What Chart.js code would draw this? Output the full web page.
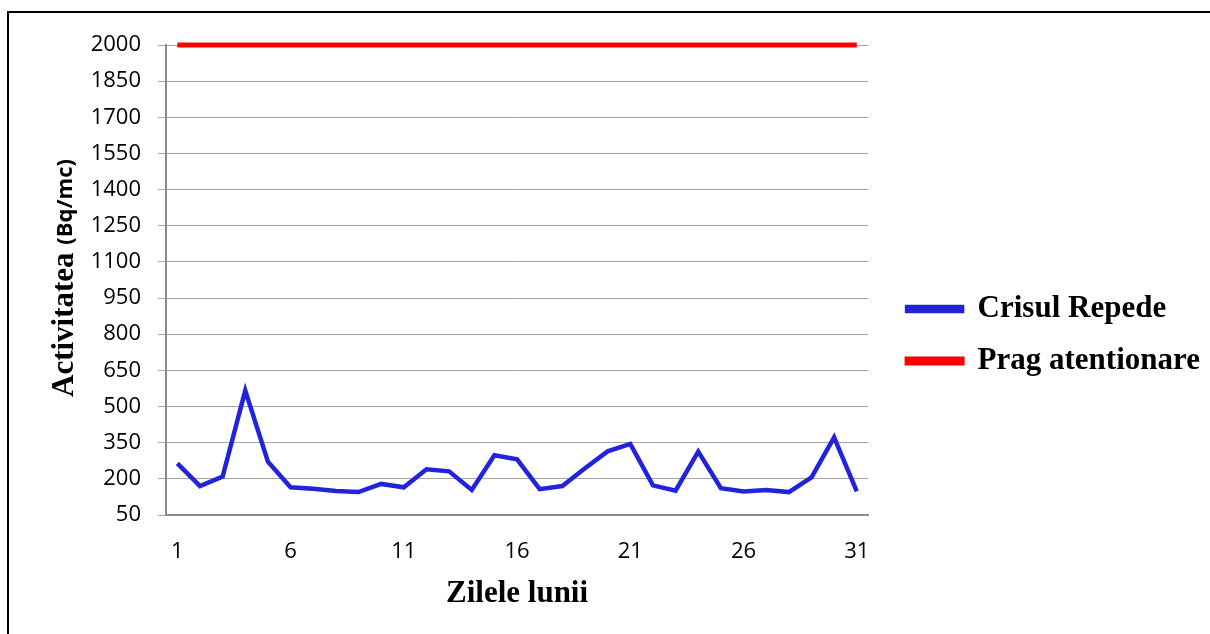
<!DOCTYPE html>
<html>
<head>
<meta charset="utf-8">
<script src="https://cdn.jsdelivr.net/npm/chart.js@4.4.1/dist/chart.umd.min.js"></script>
<style>
  html, body { margin: 0; padding: 0; background: #fff; }
  #wrap { position: relative; width: 1210px; height: 634px; overflow: hidden; }
  #frame { position: absolute; left: 7px; top: 11px; width: 1220px; height: 640px; border-left: 2px solid #000; border-top: 2px solid #000; }
  canvas { position: absolute; left: 0; top: 0; }
</style>
</head>
<body>
<div id="wrap">
  <div id="frame"></div>
  <canvas id="c" width="1210" height="634"></canvas>
</div>
<script>
// zilele lunii
const days = Array.from({ length: 31 }, (_, i) => String(i + 1));
const crisulRepede = [264, 170, 209, 566, 271, 165, 159, 150, 145, 179, 165, 240, 231, 154, 298,
  281, 157, 170, 244, 314, 345, 173, 151, 313, 161, 148, 154, 145, 206, 372, 148];
const pragAtentionare = days.map(() => 2000);
const yTicks = [50, 200, 350, 500, 650, 800, 950, 1100, 1250, 1400, 1550, 1700, 1850, 2000];

const tickFont = { family: 'Open Sans', size: 22 };
const serifBold = { family: 'Liberation Serif', size: 31, weight: 'bold' };

// y title has two fonts, so draw it by hand
const yTitle = {
  id: 'yTitle',
  afterDraw(chart) {
    const { ctx, chartArea } = chart;
    const a = 'Activitatea ', b = '(Bq/mc)';
    const fa = 'bold 31px "Liberation Serif"', fb = 'bold 22px "Open Sans"';
    ctx.save();
    ctx.font = fa;
    const wa = ctx.measureText(a).width;
    ctx.font = fb;
    const wb = ctx.measureText(b).width;
    ctx.translate(65, (chartArea.top + chartArea.bottom) / 2 - 2);
    ctx.rotate(-Math.PI / 2);
    ctx.fillStyle = '#000';
    ctx.textBaseline = 'middle';
    const x = -(wa + wb) / 2;
    ctx.font = fa;
    ctx.fillText(a, x, 0);
    ctx.font = fb;
    ctx.fillText(b, x + wa, 1);
    ctx.restore();
  }
};

new Chart(document.getElementById('c'), {
  type: 'line',
  data: {
    labels: days,
    datasets: [
      { label: 'Crisul Repede', data: crisulRepede, borderColor: '#2323dc', backgroundColor: '#2323dc', borderWidth: 4.5, pointRadius: 0, tension: 0, clip: false },
      { label: 'Prag atentionare', data: pragAtentionare, borderColor: '#ff0000', backgroundColor: '#ff0000', borderWidth: 5, pointRadius: 0, tension: 0, clip: false }
    ]
  },
  options: {
    responsive: false,
    animation: false,
    layout: { padding: { top: 45, right: 0, bottom: 9, left: 0 } },
    plugins: {
      legend: {
        position: 'right',
        maxWidth: 400,
        labels: { font: serifBold, color: '#000', boxWidth: 55, boxHeight: 4, padding: 21 }
      },
      tooltip: { enabled: false }
    },
    scales: {
      x: {
        offset: true,
        afterFit: (s) => { s.height = 110; },
        grid: { display: false, drawTicks: false },
        border: { color: '#8c8c8c', width: 2 },
        ticks: {
          font: tickFont, color: '#000', padding: 24, autoSkip: false, maxRotation: 0,
          callback: (v, i) => (i % 5 === 0 ? days[i] : '')
        },
        title: { display: true, text: 'Zilele lunii', font: serifBold, color: '#000', padding: { top: 8, bottom: 12 } }
      },
      y: {
        min: 50, max: 2000,
        afterBuildTicks: (s) => { s.ticks = yTicks.map(v => ({ value: v })); },
        afterFit: (s) => { s.width = 166; },
        grid: { color: '#a6a6a6', lineWidth: 1, tickLength: 8 },
        border: { color: '#8c8c8c', width: 2 },
        ticks: { font: tickFont, color: '#000', padding: 17, callback: (v) => String(v) }
      },
      // empty right axis, only keeps the gap before the legend
      gap: {
        type: 'linear',
        position: 'right',
        afterFit: (s) => { s.width = 18; },
        grid: { display: false, drawTicks: false },
        border: { display: false },
        ticks: { display: false }
      }
    }
  },
  plugins: [yTitle]
});
</script>
</body>
</html>
